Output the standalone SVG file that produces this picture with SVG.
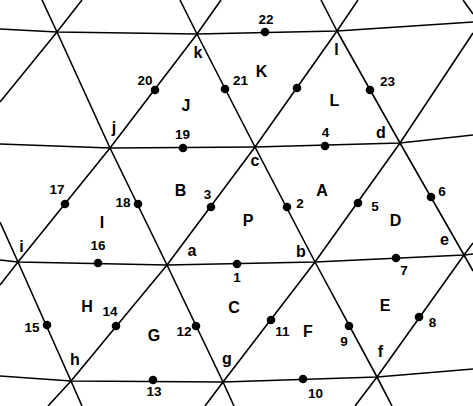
<svg xmlns="http://www.w3.org/2000/svg" width="473" height="406" viewBox="0 0 473 406">
<style>
.ln{fill:none;stroke:#000;stroke-width:1.6;stroke-linejoin:round}
.dot{fill:#000}
text{font-family:"Liberation Sans",Arial,sans-serif;font-weight:bold;fill:#000;text-anchor:middle}
.num{font-size:13.5px}
.v{font-size:16px}
.r{font-size:16px}
</style>
<rect width="473" height="406" fill="#fff"/>
<g id="connectors">
<polyline class="ln" points="0,29 57,32 197,34 337,31 473,22"/>
<polyline class="ln" points="0,144 110,148 255,147 400,143 473,135"/>
<polyline class="ln" points="0,260 18,262 167,265 315,262 464,255 473,254"/>
<polyline class="ln" points="0,376 71,381 223,382 377,377 473,369"/>
<polyline class="ln" points="0,222 18,262 71,381 82,406"/>
<polyline class="ln" points="42,0 57,32 110,148 167,265 223,382 234,406"/>
<polyline class="ln" points="180,0 197,34 255,147 315,262 377,377 392,406"/>
<polyline class="ln" points="321,0 337,31 400,143 464,255 473,271"/>
<polyline class="ln" points="463,0 473,14"/>
<polyline class="ln" points="0,102 57,32 82,0"/>
<polyline class="ln" points="0,285 18,262 110,148 197,34 221,0"/>
<polyline class="ln" points="48,406 71,381 167,265 255,147 337,31 358,0"/>
<polyline class="ln" points="205,406 223,382 315,262 400,143 473,33"/>
<polyline class="ln" points="355,406 377,377 464,255 473,243"/>
</g>
<g id="p1"><circle class="dot" cx="237" cy="264" r="4.3"/><text class="num" x="237" y="282">1</text></g>
<g id="p2"><circle class="dot" cx="287" cy="207" r="4.3"/><text class="num" x="300" y="208">2</text></g>
<g id="p3"><circle class="dot" cx="211" cy="207" r="4.3"/><text class="num" x="207.5" y="199">3</text></g>
<g id="p4"><circle class="dot" cx="325" cy="146" r="4.3"/><text class="num" x="325.5" y="137">4</text></g>
<g id="p5"><circle class="dot" cx="358" cy="203" r="4.3"/><text class="num" x="375" y="211">5</text></g>
<g id="p6"><circle class="dot" cx="431" cy="197" r="4.3"/><text class="num" x="442" y="196">6</text></g>
<g id="p7"><circle class="dot" cx="396" cy="258" r="4.3"/><text class="num" x="404" y="275">7</text></g>
<g id="p8"><circle class="dot" cx="419" cy="317" r="4.3"/><text class="num" x="432.5" y="327">8</text></g>
<g id="p9"><circle class="dot" cx="349" cy="326" r="4.3"/><text class="num" x="344" y="346">9</text></g>
<g id="p10"><circle class="dot" cx="303" cy="379" r="4.3"/><text class="num" x="315.5" y="398">10</text></g>
<g id="p11"><circle class="dot" cx="271" cy="320" r="4.3"/><text class="num" x="282.5" y="336">11</text></g>
<g id="p12"><circle class="dot" cx="196" cy="326" r="4.3"/><text class="num" x="184" y="336">12</text></g>
<g id="p13"><circle class="dot" cx="153" cy="380" r="4.3"/><text class="num" x="154" y="396">13</text></g>
<g id="p14"><circle class="dot" cx="116" cy="326" r="4.3"/><text class="num" x="110" y="316">14</text></g>
<g id="p15"><circle class="dot" cx="47" cy="325" r="4.3"/><text class="num" x="32" y="332">15</text></g>
<g id="p16"><circle class="dot" cx="98" cy="263" r="4.3"/><text class="num" x="98" y="250">16</text></g>
<g id="p17"><circle class="dot" cx="65" cy="204" r="4.3"/><text class="num" x="57" y="194">17</text></g>
<g id="p18"><circle class="dot" cx="138" cy="204" r="4.3"/><text class="num" x="123" y="207">18</text></g>
<g id="p19"><circle class="dot" cx="183" cy="148" r="4.3"/><text class="num" x="182.5" y="139">19</text></g>
<g id="p20"><circle class="dot" cx="155" cy="90" r="4.3"/><text class="num" x="145" y="85">20</text></g>
<g id="p21"><circle class="dot" cx="225" cy="89" r="4.3"/><text class="num" x="240.5" y="85">21</text></g>
<g id="p22"><circle class="dot" cx="265" cy="32" r="4.3"/><text class="num" x="266" y="24">22</text></g>
<g id="p23"><circle class="dot" cx="370" cy="90" r="4.3"/><text class="num" x="387.5" y="86">23</text></g>
<g id="p24"><circle class="dot" cx="297" cy="88" r="4.3"/></g>
<g id="vertices">
<text class="v" x="192" y="256">a</text>
<text class="v" x="301" y="257">b</text>
<text class="v" x="255" y="166">c</text>
<text class="v" x="381" y="138">d</text>
<text class="v" x="444.5" y="245">e</text>
<text class="v" x="380.5" y="357">f</text>
<text class="v" x="227" y="364">g</text>
<text class="v" x="75" y="365">h</text>
<text class="v" x="21.5" y="252">i</text>
<text class="v" x="114" y="133">j</text>
<text class="v" x="198" y="58">k</text>
<text class="v" x="336.5" y="55">l</text>
</g>
<g id="regions">
<text class="r" x="322" y="196">A</text>
<text class="r" x="180.5" y="196">B</text>
<text class="r" x="234" y="313">C</text>
<text class="r" x="395.5" y="226">D</text>
<text class="r" x="385" y="311">E</text>
<text class="r" x="308" y="337">F</text>
<text class="r" x="154" y="341">G</text>
<text class="r" x="87" y="312">H</text>
<text class="r" x="102" y="228">I</text>
<text class="r" x="186" y="111">J</text>
<text class="r" x="261.5" y="77">K</text>
<text class="r" x="334.5" y="106">L</text>
<text class="r" x="248" y="226">P</text>
</g>
</svg>
